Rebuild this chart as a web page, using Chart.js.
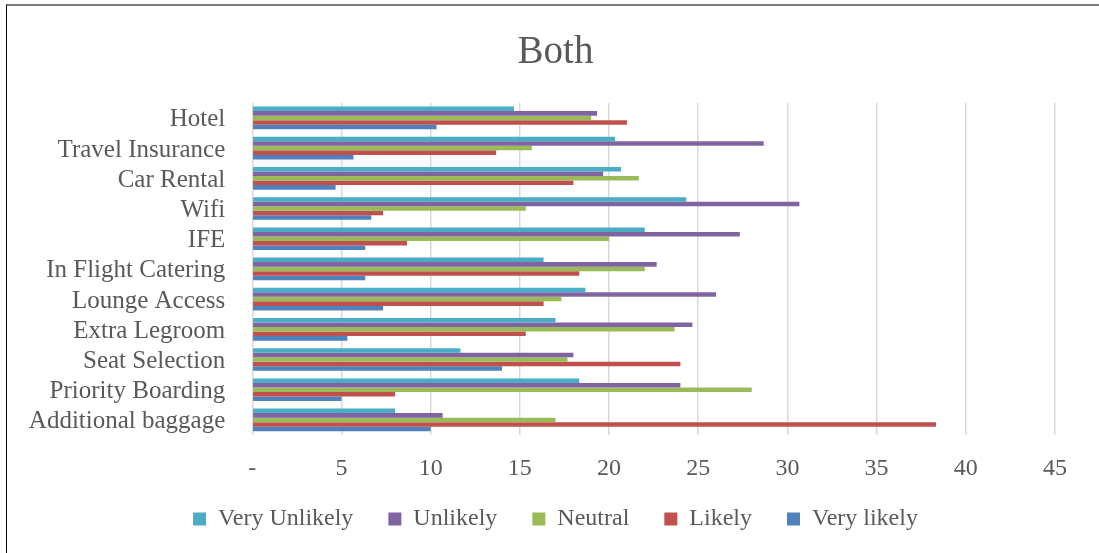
<!DOCTYPE html>
<html>
<head>
<meta charset="utf-8">
<title>Both</title>
<script src="https://cdn.jsdelivr.net/npm/chart.js@4.4.1/dist/chart.umd.min.js"></script>
<style>
  html, body { margin: 0; padding: 0; background: #ffffff; }
  #wrap { position: relative; width: 1099px; height: 553px; overflow: hidden; background: #ffffff; }
  #frame {
    position: absolute; left: 6px; top: 4px; width: 1093px; height: 549px;
    border-top: 2px solid #7a7a7a; border-left: 1px solid #000000; box-sizing: border-box;
  }
  #chart { position: absolute; left: 0; top: 0; }
</style>
</head>
<body>
<div id="wrap">
  <div id="frame"></div>
  <canvas id="chart" width="1099" height="553"></canvas>
</div>
<script>
// Ancillary services, share of answers per option
const categories = [
  'Hotel', 'Travel Insurance', 'Car Rental', 'Wifi', 'IFE', 'In Flight Catering',
  'Lounge Access', 'Extra Legroom', 'Seat Selection', 'Priority Boarding', 'Additional baggage'
];
const seriesNames = ['Very Unlikely', 'Unlikely', 'Neutral', 'Likely', 'Very likely'];
const veryUnlikely = [14.67, 20.33, 20.67, 24.33, 22.0, 16.33, 18.67, 17.0, 11.67, 18.33, 8.0];
const unlikely     = [19.33, 28.67, 19.67, 30.67, 27.33, 22.67, 26.0, 24.67, 18.0, 24.0, 10.67];
const neutral      = [19.0, 15.67, 21.67, 15.33, 20.0, 22.0, 17.33, 23.67, 17.67, 28.0, 17.0];
const likely       = [21.0, 13.67, 18.0, 7.33, 8.67, 18.33, 16.33, 15.33, 24.0, 8.0, 38.33];
const veryLikely   = [10.33, 5.67, 4.67, 6.67, 6.33, 6.33, 7.33, 5.33, 14.0, 5.0, 10.0];
const xTickLabels  = ['-', '5', '10', '15', '20', '25', '30', '35', '40', '45'];

const seriesColors = ['#4BACC6', '#8064A2', '#9BBB59', '#C0504D', '#4F81BD'];
const seriesValues = [veryUnlikely, unlikely, neutral, likely, veryLikely];

const FONT = "'Liberation Serif', 'Times New Roman', serif";
const TEXT = '#595959';

const datasets = seriesNames.map((name, i) => ({
  label: name,
  data: seriesValues[i],
  backgroundColor: seriesColors[i],
  borderWidth: 0,
  categoryPercentage: 0.75,
  barPercentage: 1.0
}));

// Centre the title and legend on the whole frame rather than on the
// space left beside the category labels, and lift the legend a little.
const centreBlocks = {
  id: 'centreBlocks',
  afterLayout(chart) {
    const dx = 28;
    const title = chart.titleBlock;
    if (title) { title.left += dx; title.right += dx; }
    const legend = chart.legend;
    if (legend) {
      legend.left += dx; legend.right += dx;
      legend.top -= 12; legend.bottom -= 12;
    }
  }
};

new Chart(document.getElementById('chart'), {
  type: 'bar',
  data: { labels: categories, datasets },
  plugins: [centreBlocks],
  options: {
    indexAxis: 'y',
    responsive: false,
    animation: false,
    devicePixelRatio: 1,
    layout: { padding: { left: 0, right: 44, top: 10, bottom: 0 } },
    plugins: {
      title: {
        display: true,
        text: 'Both',
        color: TEXT,
        font: { family: FONT, size: 39, weight: 'normal' },
        padding: { top: 19, bottom: 27 }
      },
      legend: {
        position: 'bottom',
        labels: {
          color: TEXT,
          font: { family: FONT, size: 24 },
          boxWidth: 13,
          boxHeight: 13,
          padding: 35
        }
      },
      tooltip: { enabled: false }
    },
    scales: {
      x: {
        type: 'linear',
        min: 0,
        max: 45,
        border: { display: false },
        grid: { color: '#d9d9d9', lineWidth: 1.5, drawTicks: false },
        ticks: {
          stepSize: 5,
          padding: 19,
          color: TEXT,
          font: { family: FONT, size: 24 },
          callback: (value, index) => xTickLabels[index]
        },
        afterFit: (scale) => { scale.height = 49; }
      },
      y: {
        border: { display: false },
        grid: { display: false, drawTicks: false },
        ticks: {
          padding: 27,
          labelOffset: 2,
          color: TEXT,
          font: { family: FONT, size: 25 },
          autoSkip: false
        },
        afterFit: (scale) => { scale.width = 252.3; }
      }
    }
  }
});
</script>
</body>
</html>
